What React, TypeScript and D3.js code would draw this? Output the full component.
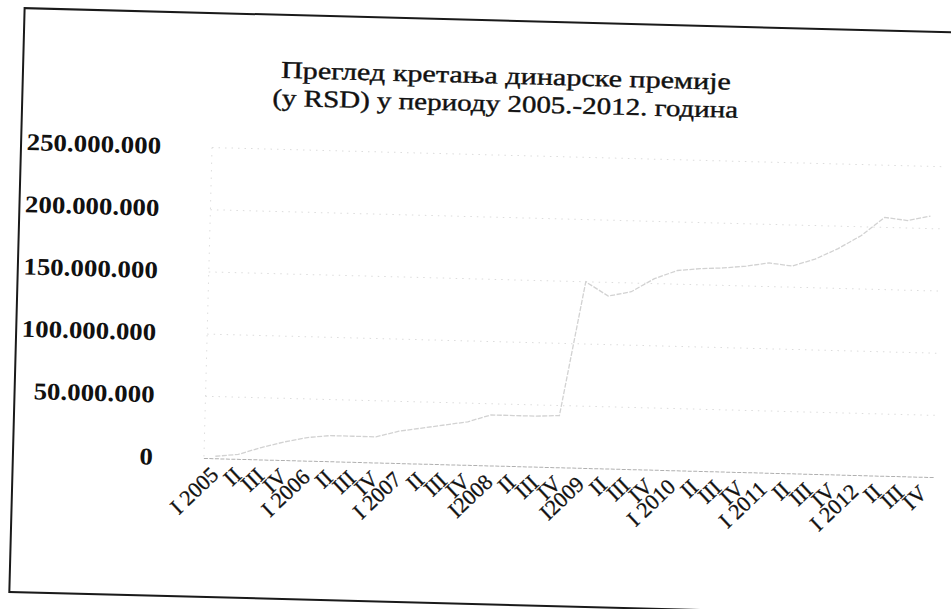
import React from 'react';
import * as d3 from 'd3';

const quarterLabels = [
  'I 2005', 'II', 'III', 'IV',
  'I 2006', 'II', 'III', 'IV',
  'I 2007', 'II', 'III', 'IV',
  'I2008', 'II', 'III', 'IV',
  'I2009', 'II', 'III', 'IV',
  'I 2010', 'II', 'III', 'IV',
  'I 2011', 'II', 'III', 'IV',
  'I 2012', 'II', 'III', 'IV',
];

// dinar premium in RSD
const premiumValues = [
  2e6, 4e6, 10e6, 15e6,
  19e6, 21e6, 21e6, 21e6,
  26e6, 29e6, 32e6, 35e6,
  41e6, 41e6, 41e6, 42e6,
  150e6, 139e6, 143e6, 154e6,
  161e6, 163e6, 164e6, 166e6,
  169e6, 167e6, 173e6, 182e6,
  193e6, 208e6, 206e6, 210e6,
];

const yTicks = [0, 50e6, 100e6, 150e6, 200e6, 250e6];

const titleLines = [
  'Преглед кретања динарске премије',
  '(у RSD) у периоду 2005.-2012. година',
];

const W = 951;
const H = 609;

const locale = d3.formatLocale({ decimal: ',', thousands: '.', grouping: [3], currency: ['', ''] });
const fmt = locale.format(',');

function labelWidth(s: string, size: number) {
  let em = 0;
  for (const ch of s) em += ch === '.' ? 0.25 : 0.5;
  return em * size * 1.12;
}

const SERIF = "'Liberation Serif', 'Times New Roman', serif";

export default function App() {
  const x = d3.scaleBand<number>().domain(d3.range(quarterLabels.length)).range([208, 939.4]);
  const y = d3.scaleLinear().domain([0, 250e6]).range([465.5, 154.5]);
  const cx = (i: number) => (x(i) as number) + x.bandwidth() / 2;
  const line = d3.line<number>().x((_, i) => cx(i)).y((d) => y(d));
  const [x0, x1] = x.range();

  return (
    <svg width={W} height={H} style={{ position: 'absolute', left: 0, top: 0, background: '#fff' }}>
      <rect width={W} height={H} fill="#fff" />
      <g transform="rotate(1.5 475 305)">
        <rect x={17} y={20} width={975} height={584} fill="none" stroke="#1a1a1a" strokeWidth={2} />
        {yTicks.map((t) => (
          <line key={'g' + t} x1={x0} x2={x1} y1={y(t)} y2={y(t)}
            stroke={t === 0 ? '#b0b0b0' : '#dcdcdc'} strokeWidth={1}
            strokeDasharray={t === 0 ? '4 1.5' : '1.5 5'} />
        ))}
        <line x1={x0} x2={x0} y1={y(250e6)} y2={y(0)} stroke="#dedede" strokeDasharray="1.5 6" />
        <path d={line(premiumValues) || ''} fill="none" stroke="#d2d2d2" strokeWidth={1.3} strokeDasharray="5 1.5" />
        {yTicks.map((t) => {
          const s = fmt(t);
          return (
            <text key={'l' + t} x={157} y={y(t) - 1} dy="0.35em" textAnchor="end"
              fontFamily={SERIF} fontWeight="bold" fontSize={24}
              textLength={labelWidth(s, 24)} lengthAdjust="spacingAndGlyphs" fill="#111">
              {s}
            </text>
          );
        })}
        {quarterLabels.map((q, i) => (
          <text key={'q' + i} transform={`translate(${cx(i) + 5},${483}) rotate(-45)`} textAnchor="end"
            fontFamily={SERIF} fontSize={22} fill="#111" stroke="#111" strokeWidth={0.3}>
            {q}
          </text>
        ))}
        {titleLines.map((t, i) => (
          <text key={'t' + i} x={500} y={83 + i * 28} textAnchor="middle"
            fontFamily={SERIF} fontSize={24} fill="#111" stroke="#111" strokeWidth={0.4}
            textLength={i === 0 ? 450 : 466} lengthAdjust="spacingAndGlyphs">
            {t}
          </text>
        ))}
      </g>
    </svg>
  );
}
